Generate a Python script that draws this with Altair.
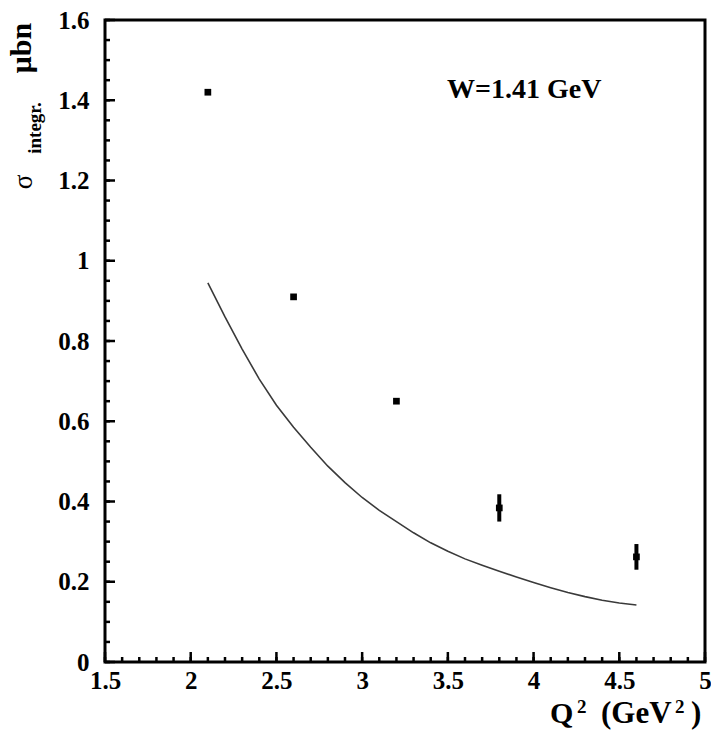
import altair as alt
import pandas as pd

# data points
q2 = [2.1, 2.6, 3.2, 3.8, 4.6]
sigma = [1.42, 0.91, 0.65, 0.384, 0.262]
err = [0.0, 0.0, 0.0, 0.034, 0.032]

# model curve
curve_q2 = [2.1, 2.2, 2.3, 2.4, 2.5, 2.6, 2.7, 2.8, 2.9, 3.0, 3.1, 3.2, 3.3,
            3.4, 3.5, 3.6, 3.7, 3.8, 3.9, 4.0, 4.1, 4.2, 4.3, 4.4, 4.5, 4.6]
curve_sigma = [0.945, 0.86, 0.78, 0.705, 0.64, 0.585, 0.535, 0.488, 0.447, 0.41,
               0.378, 0.35, 0.322, 0.297, 0.276, 0.257, 0.241, 0.226, 0.212,
               0.198, 0.185, 0.173, 0.163, 0.154, 0.147, 0.142]

# tick values
x_major = [1.5, 2.0, 2.5, 3.0, 3.5, 4.0, 4.5, 5.0]
x_minor = [round(1.5 + 0.1 * i, 2) for i in range(36)]
y_major = [0.0, 0.2, 0.4, 0.6, 0.8, 1.0, 1.2, 1.4, 1.6]
y_minor = [round(0.05 * i, 3) for i in range(33)]

W, H = 600, 642
FONT = "Liberation Serif"

pts = pd.DataFrame({"q2": q2, "sigma": sigma, "err": err})
pts["lo"] = pts["sigma"] - pts["err"]
pts["hi"] = pts["sigma"] + pts["err"]
curve = pd.DataFrame({"q2": curve_q2, "sigma": curve_sigma})

xs = alt.Scale(domain=[1.5, 5.0], nice=False, zero=False)
ys = alt.Scale(domain=[0.0, 1.6], nice=False, zero=False)

axX = alt.Axis(values=x_major, format="~g", ticks=False, domain=False, grid=False,
               labelFont=FONT, labelFontWeight="bold", labelFontSize=25, labelColor="black",
               labelPadding=6, labelFlush=False)
axY = alt.Axis(values=y_major, format="~g", ticks=False, domain=False, grid=False,
               labelFont=FONT, labelFontWeight="bold", labelFontSize=25, labelColor="black",
               labelPadding=16, labelFlush=False)

def X(field):
    return alt.X(field, scale=xs, axis=axX, title=None)

def Y(field):
    return alt.Y(field, scale=ys, axis=axY, title=None)

points = alt.Chart(pts).mark_square(size=45, color="black", opacity=1).encode(
    x=X("q2:Q"), y=Y("sigma:Q"))

errbars = alt.Chart(pts).transform_filter("datum.err > 0").mark_rule(
    color="black", strokeWidth=4).encode(x=X("q2:Q"), y=Y("lo:Q"), y2="hi:Q")

line = alt.Chart(curve).mark_line(color="#3a3a3a", strokeWidth=1.6).encode(
    x=X("q2:Q"), y=Y("sigma:Q"))

def yticks(vals, L):
    return alt.Chart(pd.DataFrame({"v": vals})).mark_rule(color="black", strokeWidth=2.5).encode(
        y=Y("v:Q"), x=alt.value(0), x2=alt.value(L))

def xticks(vals, L):
    return alt.Chart(pd.DataFrame({"v": vals})).mark_rule(color="black", strokeWidth=2.5).encode(
        x=X("v:Q"), y=alt.value(H), y2=alt.value(H - L))

def label(text, x, y, size, angle=0, align="center", baseline="alphabetic", weight="bold"):
    kw = dict(text=text, font=FONT, fontWeight=weight, fontSize=size, color="black",
              align=align, baseline=baseline)
    if angle:
        kw["angle"] = angle
    return alt.Chart(pd.DataFrame({"t": [text]})).mark_text(**kw).encode(
        x=alt.value(x), y=alt.value(y))

chart = alt.layer(
    yticks(y_minor, 5), yticks(y_major, 10),
    xticks(x_minor, 5), xticks(x_major, 10),
    line, errbars, points,
    label("W=1.41 GeV", 342, 78, 28, align="left"),
    label("σ", -73, 162, 27, angle=270, weight="normal"),
    label("integr.", -64, 108, 19, angle=270),
    label("μbn", -74, 28, 30, angle=270),
    label("Q", 445, 703, 30, align="left"),
    label("2", 472, 693, 19, align="left"),
    label("(GeV", 496, 703, 31, align="left"),
    label("2", 570, 693, 19, align="left"),
    label(")", 586, 703, 31, align="left"),
).properties(
    width=W, height=H,
    background="white",
    autosize=alt.AutoSizeParams(type="none"),
    padding={"left": 105, "top": 20, "right": 6, "bottom": 76},
).configure_view(stroke="black", strokeWidth=3)

chart.save("out.html", embed_options={"renderer": "svg", "actions": False})
